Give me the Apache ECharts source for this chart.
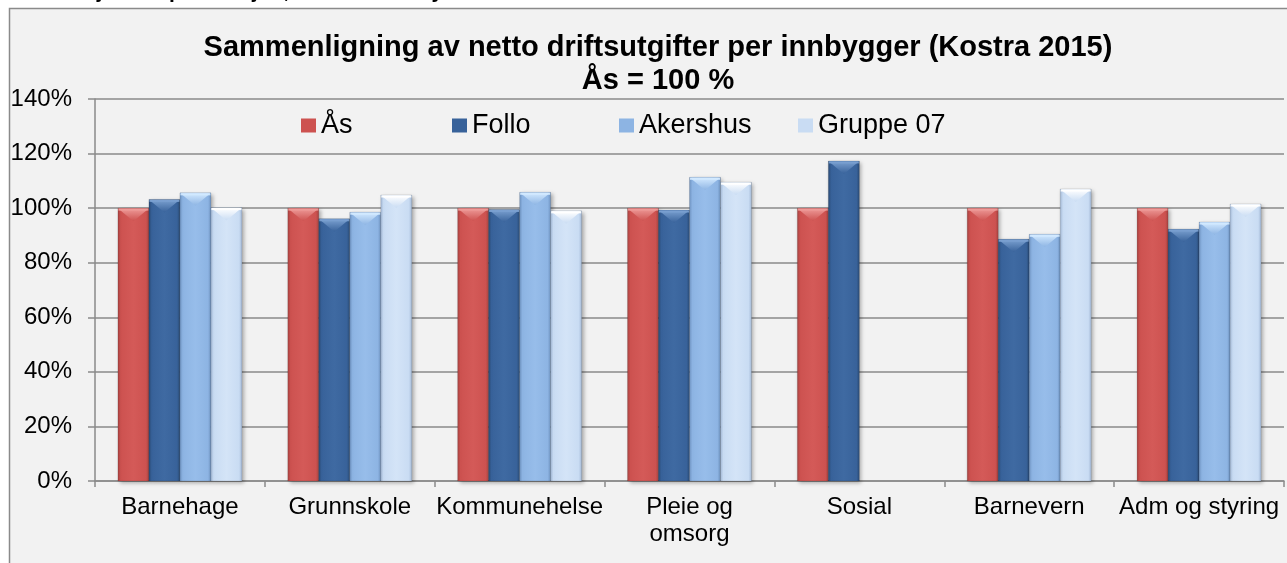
<!DOCTYPE html>
<html>
<head>
<meta charset="utf-8">
<script src="https://cdn.jsdelivr.net/npm/echarts@6/dist/echarts.min.js"></script>
<style>
  html, body { margin: 0; padding: 0; background: #fff; }
  #chart { width: 1287px; height: 563px; }
</style>
</head>
<body>
<div id="chart"></div>
<script>
// verdier lest av figuren (Ås = 100)
const categories = ["Barnehage", "Grunnskole", "Kommunehelse", "Pleie og\nomsorg", "Sosial", "Barnevern", "Adm og styring"];
const seriesNames = ["Ås", "Follo", "Akershus", "Gruppe 07"];
const asValues = [100, 100, 100, 100, 100, 100, 100];
const folloValues = [103.2, 96.1, 99.5, 99.3, 117.3, 88.6, 92.3];
const akershusValues = [105.6, 98.5, 105.8, 111.3, null, 90.4, 94.9];
const gruppeValues = [100.2, 104.8, 99.0, 109.5, null, 107.0, 101.5];
const yTicks = [0, 20, 40, 60, 80, 100, 120, 140];

const font = "Liberation Sans, Arial, sans-serif";

// farger: kant, kropp, lys midt, topp-flik
const palette = [
  { edge: "#a44240", mid: "#cd5250", light: "#d45a58", flap: "#ee9a98" },
  { edge: "#2a4a73", mid: "#38629a", light: "#3f6aa2", flap: "#7aa0d0" },
  { edge: "#6d91bf", mid: "#8db4e3", light: "#97bdea", flap: "#d2e9ff" },
  { edge: "#9fb5d3", mid: "#c9dcf3", light: "#d4e4f7", flap: "#ffffff" },
];
const legendPos = [296, 447, 614, 793];
const groupShare = 0.73; // del av kategoribredden som stolpene fyller

const chart = echarts.init(document.getElementById("chart"));

function renderBar(s) {
  const c = palette[s];
  return function (params, api) {
    const cat = api.value(0);
    const v = api.value(1);
    const top = api.coord([cat, v]);
    const base = api.coord([cat, 0]);
    const bw = (api.size([1, 0])[0] * groupShare) / 4;
    const x0 = top[0] - 2 * bw + s * bw;
    const h = base[1] - top[1];
    const cap = Math.min(13, h / 2);
    const body = new echarts.graphic.LinearGradient(0, 0, 1, 0, [
      { offset: 0, color: c.edge },
      { offset: 0.1, color: c.mid },
      { offset: 0.5, color: c.light },
      { offset: 0.9, color: c.mid },
      { offset: 1, color: c.edge },
    ]);
    const flap = new echarts.graphic.LinearGradient(0, 0, 0, 1, [
      { offset: 0, color: c.flap },
      { offset: 1, color: c.mid },
    ]);
    return {
      type: "group",
      children: [
        {
          type: "rect",
          shape: { x: x0, y: top[1], width: bw, height: h },
          style: {
            fill: body,
            stroke: "rgba(0,0,0,0.18)",
            lineWidth: 0.6,
            shadowBlur: 4,
            shadowOffsetX: 2,
            shadowOffsetY: 2,
            shadowColor: "rgba(0,0,0,0.3)",
          },
        },
        {
          type: "polygon",
          shape: {
            points: [
              [x0 + 0.5, top[1] + 0.5],
              [x0 + bw - 0.5, top[1] + 0.5],
              [x0 + bw / 2, top[1] + cap],
            ],
          },
          style: { fill: flap },
        },
        {
          type: "rect",
          shape: { x: x0 + 0.5, y: top[1] + 0.5, width: bw - 1, height: 2 },
          style: { fill: c.flap, opacity: 0.9 },
        },
      ],
    };
  };
}

const makeSeries = (name, values, s) => ({
  name: name,
  type: "custom",
  renderItem: renderBar(s),
  encode: { x: 0, y: 1 },
  itemStyle: { color: palette[s].mid },
  data: values
    .map((v, i) => (v == null ? null : [i, v]))
    .filter((d) => d !== null),
});

const option = {
  backgroundColor: "#ffffff",
  animation: false,
  textStyle: { fontFamily: font },
  graphic: [
    {
      type: "rect",
      z: -100,
      silent: true,
      shape: { x: 9.5, y: 8.5, width: 1300, height: 600 },
      style: { fill: "#f2f2f2", stroke: "#8a8a8a", lineWidth: 1.5 },
    },
    {
      type: "text",
      z: 100,
      x: 8,
      y: -8,
      style: {
        text: "Effektiv tjenesteproduksjon, KOSTRA analyse",
        font: "bold 21px " + font,
        fill: "#000",
        verticalAlign: "middle",
      },
    },
    {
      type: "text",
      z: 100,
      x: 658,
      y: 31,
      style: {
        text: "Sammenligning av netto driftsutgifter per innbygger (Kostra 2015)\nÅs = 100 %",
        font: "bold 29px " + font,
        fill: "#000",
        textAlign: "center",
        verticalAlign: "top",
        lineHeight: 33,
      },
    },
  ],
  legend: seriesNames.map((n, i) => ({
    data: [n],
    left: legendPos[i],
    top: 107,
    icon: "rect",
    itemWidth: 15,
    itemHeight: 14,
    itemGap: 6,
    textStyle: { fontSize: 27, color: "#000", fontFamily: font },
  })),
  grid: {
    left: 95,
    right: 3,
    top: 99,
    bottom: 82,
  },
  xAxis: {
    type: "category",
    data: categories,
    axisLine: { lineStyle: { color: "#8a8a8a", width: 1.5 } },
    axisTick: { show: true, length: 6, lineStyle: { color: "#8a8a8a", width: 1.5 } },
    axisLabel: { fontSize: 24, color: "#000", margin: 13, lineHeight: 27, interval: 0 },
  },
  yAxis: {
    type: "value",
    min: yTicks[0],
    max: yTicks[yTicks.length - 1],
    interval: 20,
    axisLine: { show: true, lineStyle: { color: "#8a8a8a", width: 1.5 } },
    axisTick: { show: true, length: 7, lineStyle: { color: "#8a8a8a", width: 1.5 } },
    axisLabel: { fontSize: 24, color: "#000", margin: 23, formatter: "{value}%" },
    splitLine: { lineStyle: { color: "#8a8a8a", width: 1.5 } },
  },
  series: [
    makeSeries(seriesNames[0], asValues, 0),
    makeSeries(seriesNames[1], folloValues, 1),
    makeSeries(seriesNames[2], akershusValues, 2),
    makeSeries(seriesNames[3], gruppeValues, 3),
  ],
};

chart.setOption(option);
window.addEventListener("resize", () => {
  chart.resize();
});
</script>
</body>
</html>
